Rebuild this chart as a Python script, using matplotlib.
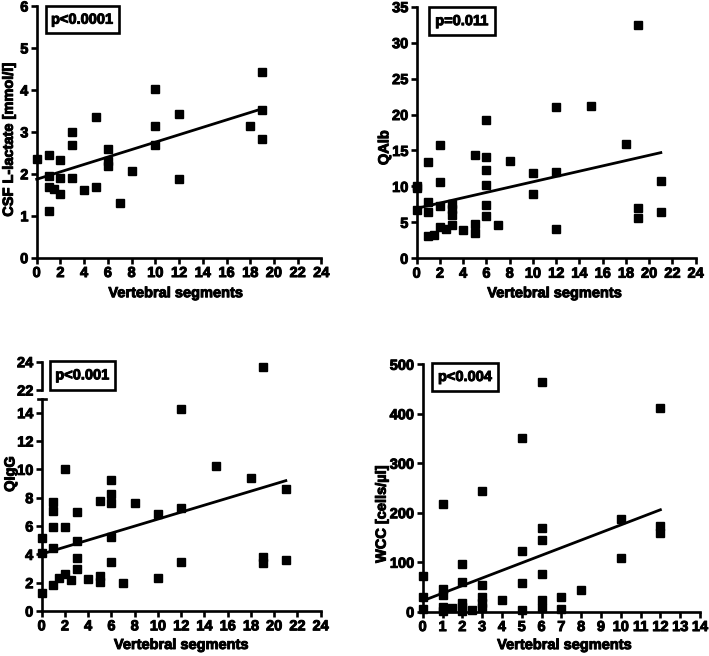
import numpy as np
import matplotlib
matplotlib.use("Agg")
import matplotlib.pyplot as plt
import matplotlib.patheffects as pe
from matplotlib.patches import Rectangle
from matplotlib.text import Text

plt.rcParams['font.family'] = ['Liberation Sans', 'DejaVu Sans']
plt.rcParams['font.weight'] = 'bold'
plt.rcParams['font.size'] = 10.5

# ---------------- data ----------------
lac_x = [0, 1, 1, 1, 1, 1.5, 2, 2, 2, 3, 3, 3, 4, 5, 5, 6, 6, 6, 7, 8,
         10, 10, 10, 12, 12, 18, 19, 19, 19]
lac_y = [2.35, 2.46, 1.95, 1.69, 1.11, 1.63, 2.33, 1.89, 1.51, 3.0, 2.68, 1.91,
         1.61, 3.35, 1.69, 2.59, 2.31, 2.19, 1.30, 2.06,
         4.01, 3.15, 2.69, 3.42, 1.88, 3.14, 4.43, 3.52, 2.82]
lac_fit_x = [0, 19]
lac_fit_y = [1.87, 3.55]

qalb_x = [0, 0, 0, 1, 1, 1, 1, 1.5, 2, 2, 2, 2, 2.5, 3, 3, 3, 3, 4, 5, 5, 5,
          6, 6, 6, 6, 6, 6, 7, 8, 10, 10, 12, 12, 12, 15, 18, 19, 19, 19, 21, 21]
qalb_y = [10.1, 9.8, 6.7, 13.35, 7.8, 6.5, 3.1, 3.24, 15.7, 10.6, 7.3, 4.4, 4.07,
          7.6, 6.8, 6.0, 4.63, 3.94, 14.4, 4.77, 3.5,
          19.3, 14.05, 12.3, 10.2, 7.4, 5.9, 4.63, 13.6, 11.8, 8.95,
          21.0, 12.05, 4.1, 21.2, 15.9, 32.4, 7.0, 5.66, 10.7, 6.5]
qalb_fit_x = [0, 21]
qalb_fit_y = [6.95, 14.7]

qigg_x = [0, 0, 0, 1, 1, 1, 1, 1, 1.5, 2, 2, 2, 2.5, 3, 3, 3, 3, 4, 5, 5, 5,
          6, 6, 6, 6, 6, 7, 8, 10, 10, 12, 12, 12, 15, 18, 19, 19, 19, 21, 21]
qigg_y = [5.17, 4.11, 1.29, 7.67, 7.06, 5.95, 4.47, 1.83, 2.3, 10.0, 5.95, 2.61,
          2.19, 6.97, 4.94, 3.72, 2.96, 2.24, 7.78, 2.47, 2.07,
          9.25, 8.23, 7.6, 5.2, 3.48, 1.95, 7.6, 6.82, 2.3,
          14.26, 7.29, 3.44, 10.24, 9.41, 23.6, 3.84, 3.41, 8.59, 3.6]
qigg_fit_x = [0, 21]
qigg_fit_y = [4.02, 9.2]

wcc_x = [0, 0, 0, 1, 1, 1, 1, 1, 1.5, 2, 2, 2, 2, 2, 2.5, 3, 3, 3, 3, 3, 4,
         5, 5, 5, 5, 6, 6, 6, 6, 6, 6, 7, 7, 8, 10, 10, 12, 12, 12]
wcc_y = [72, 30, 5, 218, 45, 34, 9, 2, 7, 96, 61, 17, 9, 2, 3, 244, 54, 30, 17, 8, 24,
         352, 123, 59, 3, 464, 169, 144, 76, 24, 8, 30, 6, 44, 187, 108, 411, 173, 160]
wcc_fit_x = [0, 12]
wcc_fit_y = [22, 206]

p_texts = ["p<0.0001", "p=0.011", "p<0.001", "p<0.004"]

# ---------------- layout helpers ----------------
W, H = 709, 656
fig = plt.figure(figsize=(W / 100, H / 100), dpi=100)


def rect(l, r, t, b):
    return [l / W, 1 - b / H, (r - l) / W, (b - t) / H]


LW = 1.9
MS = 5.6


def style(ax, xlim, ylim, xticks, yticks, show_x=True):
    ax.set_xlim(*xlim)
    ax.set_ylim(*ylim)
    for s in ['top', 'right']:
        ax.spines[s].set_visible(False)
    ax.spines['left'].set_linewidth(LW)
    ax.spines['bottom'].set_linewidth(LW)
    ax.set_yticks(yticks)
    ax.tick_params(axis='both', direction='out', length=4.5, width=LW,
                   pad=1.5, labelsize=10.5)
    if show_x:
        ax.set_xticks(xticks)
    else:
        ax.spines['bottom'].set_visible(False)
        ax.set_xticks([])
    for lab in ax.get_xticklabels() + ax.get_yticklabels():
        lab.set_fontweight('bold')


def scatter(ax, x, y):
    ax.plot(x, y, 's', color='black', ms=MS, clip_on=False, zorder=3)


def fitline(ax, x, y):
    ax.plot(x, y, '-', color='black', lw=2.0, zorder=2, clip_on=False)


def labels(ax, xl, yl, xpos, ypos):
    ax.set_xlabel(xl, fontweight='bold', fontsize=10.5)
    ax.set_ylabel(yl, fontweight='bold', fontsize=10.5)
    ax.xaxis.set_label_coords(*xpos)
    ax.yaxis.set_label_coords(*ypos)
    ax.xaxis.label.set_va('center')
    ax.yaxis.label.set_va('center')


# Panel 1
ax1 = fig.add_axes(rect(36.7, 321.4, 6, 257.7))
style(ax1, (0, 24), (0, 6), np.arange(0, 25, 2), np.arange(0, 7, 1))
scatter(ax1, lac_x, lac_y)
fitline(ax1, lac_fit_x, lac_fit_y)
labels(ax1, "Vertebral segments", "CSF L-lactate [mmol/l]", (0.49, -0.141), (-0.098, 0.47))

# Panel 2
ax2 = fig.add_axes(rect(416.7, 695.7, 6.7, 258.3))
style(ax2, (0, 24), (0, 35), np.arange(0, 25, 2), np.arange(0, 36, 5))
scatter(ax2, qalb_x, qalb_y)
fitline(ax2, qalb_fit_x, qalb_fit_y)
labels(ax2, "Vertebral segments", "QAlb", (0.496, -0.139), (-0.116, 0.44))

# Panel 3 (broken y axis)
qx = np.array(qigg_x)
qy = np.array(qigg_y)
low = qy <= 15
ax3 = fig.add_axes(rect(41.7, 320.7, 398.5, 611))
style(ax3, (0, 24), (0, 15), np.arange(0, 25, 2), np.arange(0, 15, 2))
scatter(ax3, qx[low], qy[low])
fitline(ax3, qigg_fit_x, qigg_fit_y)
labels(ax3, "Vertebral segments", "QIgG", (0.502, -0.16), (-0.112, 0.645))
ax3t = fig.add_axes(rect(41.7, 320.7, 361.7, 390))
style(ax3t, (0, 24), (22, 24), [], [22, 24], show_x=False)
scatter(ax3t, qx[~low], qy[~low])
# break cap on top of the lower segment
ax3.plot([-0.014, 0.014], [1, 1], transform=ax3.transAxes,
         color='black', lw=LW, clip_on=False)

# Panel 4
ax4 = fig.add_axes(rect(422.7, 700, 364.3, 611.7))
style(ax4, (0, 14), (0, 500), np.arange(0, 15, 1), np.arange(0, 501, 100))
scatter(ax4, wcc_x, wcc_y)
fitline(ax4, wcc_fit_x, wcc_fit_y)
labels(ax4, "Vertebral segments", "WCC [cells/µl]", (0.513, -0.135), (-0.148, 0.395))

# p-value boxes (overlay in pixel coords)
ov = fig.add_axes([0, 0, 1, 1], zorder=10)
ov.set_xlim(0, W)
ov.set_ylim(H, 0)
ov.axis('off')
boxes = [(45.7, 6, 119, 33.3), (429, 7.3, 495, 35), (50, 360.7, 115, 390), (432.3, 363.3, 498.3, 390.7)]
for (l, t, r, b), txt in zip(boxes, p_texts):
    ov.add_patch(Rectangle((l, t), r - l, b - t, fill=True, facecolor='white',
                           edgecolor='black', lw=1.9))
    ov.text((l + r) / 2, (t + b) / 2, txt, ha='center', va='center',
            fontsize=10.5, fontweight='bold')

# heavier text like the reference
for t in fig.findobj(Text):
    t.set_path_effects([pe.withStroke(linewidth=0.7, foreground='black')])

fig.savefig("out.png", dpi=100)
